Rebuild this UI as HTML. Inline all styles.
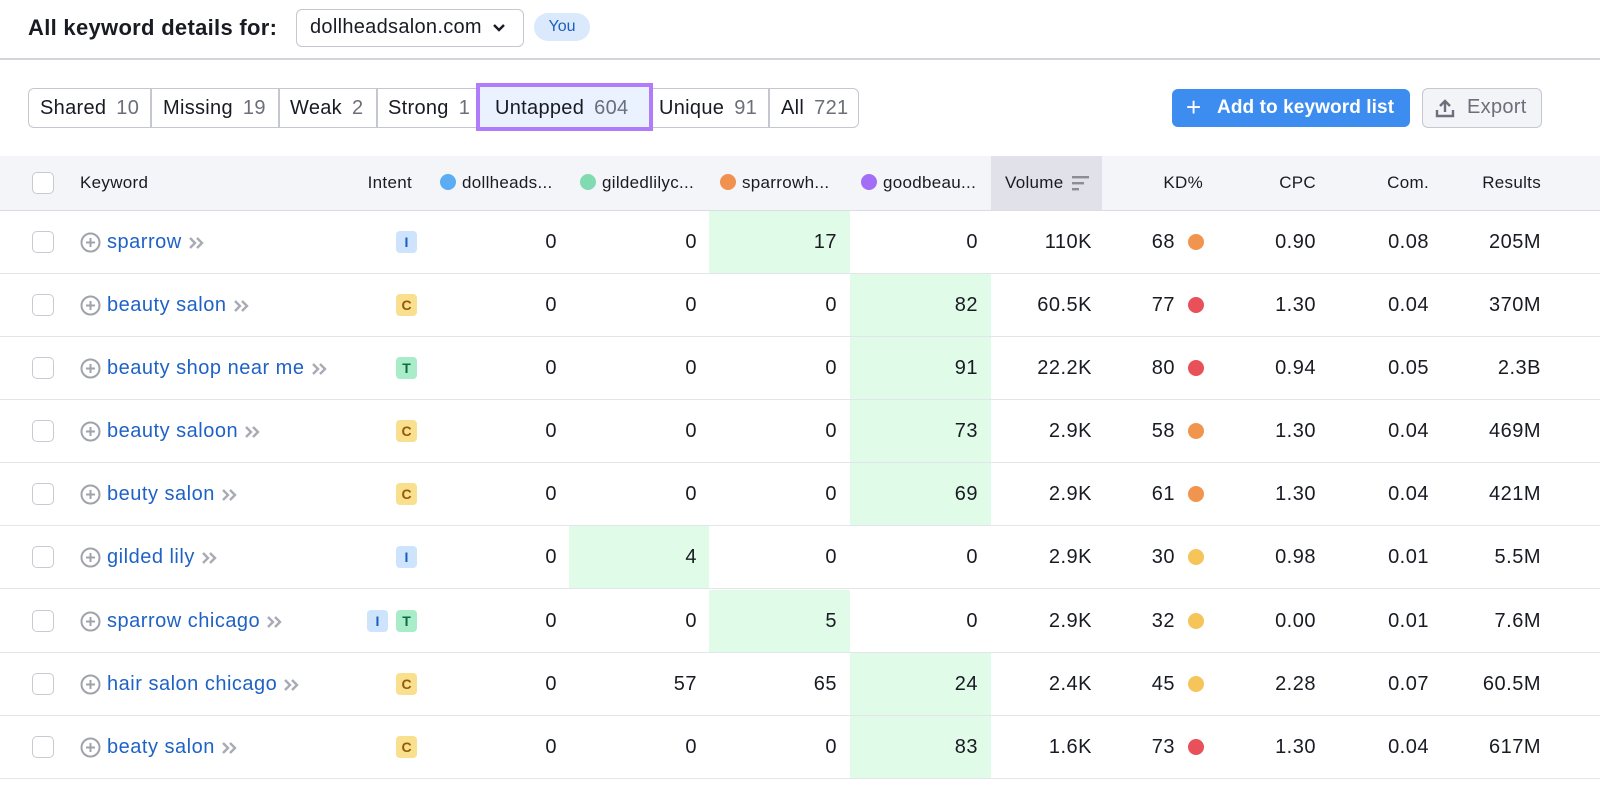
<!DOCTYPE html>
<html><head><meta charset="utf-8">
<style>
*{box-sizing:border-box;margin:0;padding:0}
body{width:1600px;height:797px;background:#fff;font-family:"Liberation Sans",Arial,sans-serif;color:#191b23;position:relative;overflow:hidden}
.a{position:absolute}
.title{left:28px;top:13px;font-size:22px;font-weight:bold;letter-spacing:0.3px;line-height:30px}
.dd{left:296px;top:9px;width:228px;height:38px;border:1.5px solid #c4c7cf;border-radius:6px;font-size:20px;letter-spacing:0.3px;line-height:35px;padding-left:13px}
.you{left:534px;top:13px;width:56px;height:28px;border-radius:14px;background:#dbe9fc;color:#1b5fc0;font-size:16px;text-align:center;line-height:28px}
.sep{left:0;top:58px;width:1600px;height:2px;background:#d3d5db}
.tabs{left:28px;top:88px;width:831px;height:40px;border:1.5px solid #c4c7cf;border-radius:6px}
.tab{position:absolute;top:88px;height:40px;font-size:20px;letter-spacing:0.3px;line-height:40px;padding-left:12px;white-space:nowrap}
.tab span{color:#6c6e79;margin-left:10px}
.vl{position:absolute;top:89px;width:1.5px;height:38px;background:#c4c7cf}
.unt{left:476px;top:83px;width:177px;height:48px;border:4px solid #b07cf9;background:#e9f2fe}
.add{left:1172px;top:89px;width:238px;height:38px;background:#3d8cf0;border-radius:6px;color:#fff;font-size:19px;font-weight:bold;line-height:38px;letter-spacing:0.1px}
.exp{left:1422px;top:88px;width:120px;height:40px;background:#f3f4f8;border:1.5px solid #c6c8d0;border-radius:6px;color:#6c6e79;font-size:20px;line-height:37px;letter-spacing:0.3px}
.hdr{left:0;top:156px;width:1600px;height:55px;background:#f4f5f9;border-bottom:1.5px solid #dcdde3}
.h{position:absolute;top:156px;height:54px;line-height:54px;font-size:17px;letter-spacing:0.3px;white-space:nowrap}
.hd{display:inline-block;width:16px;height:16px;border-radius:50%;vertical-align:-2px;margin-right:6px}
.cb{position:absolute;left:32px;width:22px;height:22px;border:1.5px solid #c8cad1;border-radius:5px;background:#fff}
.row{position:absolute;left:0;width:1600px;height:63px;border-bottom:1.5px solid #e4e5ea}
.c{position:absolute;top:0;height:62px;line-height:62px;font-size:20px;letter-spacing:0.5px;text-align:right;white-space:nowrap}
.g{position:absolute;top:0;height:62px;background:#e1fbe9}
.kw{position:absolute;left:80px;top:0;height:62px;line-height:62px;font-size:20px;letter-spacing:0.5px;color:#1f62c6;white-space:nowrap}
.kw svg{vertical-align:middle}
.bd{position:absolute;top:20px;width:21px;height:22px;border-radius:4px;font-size:14px;font-weight:bold;text-align:center;line-height:22px}
.bI{background:#cde4fc;color:#1a5dbf}
.bT{background:#a9ecc8;color:#0d6b43}
.bC{background:#f8e08e;color:#94590a}
.dot{position:absolute;left:1188px;top:23px;width:16px;height:16px;border-radius:50%}
.o{background:#f0944e}.rd{background:#e9505a}.y{background:#f5c55a}
</style></head><body>
<div class="a title">All keyword details for:</div>
<div class="a dd">dollheadsalon.com<svg class="a" style="left:195px;top:13px" width="14" height="10" viewBox="0 0 14 10"><path d="M2 2l5 5 5-5" fill="none" stroke="#191b23" stroke-width="2.4"/></svg></div>
<div class="a you">You</div>
<div class="a sep"></div>

<div class="a tabs"></div>
<div class="a unt"></div>
<div class="vl" style="left:150px"></div>
<div class="vl" style="left:278px"></div>
<div class="vl" style="left:376px"></div>
<div class="vl" style="left:768px"></div>
<div class="tab" style="left:28px">Shared<span>10</span></div>
<div class="tab" style="left:151px">Missing<span>19</span></div>
<div class="tab" style="left:278px">Weak<span>2</span></div>
<div class="tab" style="left:376px">Strong<span>1</span></div>
<div class="tab" style="left:483px">Untapped<span>604</span></div>
<div class="tab" style="left:647px">Unique<span>91</span></div>
<div class="tab" style="left:769px">All<span>721</span></div>

<div class="a add"><span style="position:absolute;left:14px;font-weight:normal;font-size:26px;top:-1px">+</span><span style="position:absolute;left:45px">Add to keyword list</span></div>
<div class="a exp"><svg class="a" style="left:12px;top:9px" width="20" height="20" viewBox="0 0 20 20"><path d="M10 14V3M5 8l5-5 5 5M2 12v6h16v-6" fill="none" stroke="#6c6e79" stroke-width="2.4"/></svg><span style="position:absolute;left:44px">Export</span></div>

<div class="a hdr"></div>
<div class="a" style="left:991px;top:156px;width:111px;height:54px;background:#e0e1e9"></div>
<div class="cb" style="top:172px"></div>
<div class="h" style="left:80px">Keyword</div>
<div class="h" style="left:340px;width:72px;text-align:right">Intent</div>
<div class="h" style="left:440px"><span class="hd" style="background:#5aacf5"></span>dollheads...</div>
<div class="h" style="left:580px"><span class="hd" style="background:#81dbb0"></span>gildedlilyc...</div>
<div class="h" style="left:720px"><span class="hd" style="background:#f0914f"></span>sparrowh...</div>
<div class="h" style="left:861px"><span class="hd" style="background:#a36df5"></span>goodbeau...</div>
<div class="h" style="left:1005px">Volume</div>
<svg class="a" style="left:1072px;top:175px" width="17" height="16" viewBox="0 0 17 16"><rect x="0" y="1" width="17" height="2.4" fill="#8a8d96"/><rect x="0" y="7" width="12" height="2.4" fill="#8a8d96"/><rect x="0" y="13" width="7" height="2.4" fill="#8a8d96"/></svg>
<div class="h" style="left:1140px;width:63px;text-align:right">KD%</div>
<div class="h" style="left:1250px;width:66px;text-align:right">CPC</div>
<div class="h" style="left:1360px;width:69px;text-align:right">Com.</div>
<div class="h" style="left:1460px;width:81px;text-align:right">Results</div>

<!-- rows -->
<div class="row" style="top:211px">
<div class="g" style="left:709px;width:141px"></div>
<div class="cb" style="top:20px"></div>
<div class="kw"><svg width="21" height="21" viewBox="0 0 21 21"><circle cx="10.5" cy="10.5" r="9" fill="none" stroke="#a0a3ab" stroke-width="2"/><path d="M10.5 6v9M6 10.5h9" stroke="#a0a3ab" stroke-width="2"/></svg> sparrow <svg width="18" height="14" viewBox="0 0 18 14"><path d="M2 2l5 5-5 5M9 2l5 5-5 5" fill="none" stroke="#a8abb3" stroke-width="2.4"/></svg></div>
<div class="bd bI" style="left:396px">I</div>
<div class="c" style="left:429px;width:128px">0</div>
<div class="c" style="left:569px;width:128px">0</div>
<div class="c" style="left:709px;width:128px">17</div>
<div class="c" style="left:850px;width:128px">0</div>
<div class="c" style="left:991px;width:101px">110K</div>
<div class="c" style="left:1110px;width:65px">68</div><div class="dot o"></div>
<div class="c" style="left:1210px;width:106px">0.90</div>
<div class="c" style="left:1330px;width:99px">0.08</div>
<div class="c" style="left:1440px;width:101px">205M</div>
</div>

<div class="row" style="top:274px">
<div class="g" style="left:850px;width:141px"></div>
<div class="cb" style="top:20px"></div>
<div class="kw"><svg width="21" height="21" viewBox="0 0 21 21"><circle cx="10.5" cy="10.5" r="9" fill="none" stroke="#a0a3ab" stroke-width="2"/><path d="M10.5 6v9M6 10.5h9" stroke="#a0a3ab" stroke-width="2"/></svg> beauty salon <svg width="18" height="14" viewBox="0 0 18 14"><path d="M2 2l5 5-5 5M9 2l5 5-5 5" fill="none" stroke="#a8abb3" stroke-width="2.4"/></svg></div>
<div class="bd bC" style="left:396px">C</div>
<div class="c" style="left:429px;width:128px">0</div>
<div class="c" style="left:569px;width:128px">0</div>
<div class="c" style="left:709px;width:128px">0</div>
<div class="c" style="left:850px;width:128px">82</div>
<div class="c" style="left:991px;width:101px">60.5K</div>
<div class="c" style="left:1110px;width:65px">77</div><div class="dot rd"></div>
<div class="c" style="left:1210px;width:106px">1.30</div>
<div class="c" style="left:1330px;width:99px">0.04</div>
<div class="c" style="left:1440px;width:101px">370M</div>
</div>

<div class="row" style="top:337px">
<div class="g" style="left:850px;width:141px"></div>
<div class="cb" style="top:20px"></div>
<div class="kw"><svg width="21" height="21" viewBox="0 0 21 21"><circle cx="10.5" cy="10.5" r="9" fill="none" stroke="#a0a3ab" stroke-width="2"/><path d="M10.5 6v9M6 10.5h9" stroke="#a0a3ab" stroke-width="2"/></svg> beauty shop near me <svg width="18" height="14" viewBox="0 0 18 14"><path d="M2 2l5 5-5 5M9 2l5 5-5 5" fill="none" stroke="#a8abb3" stroke-width="2.4"/></svg></div>
<div class="bd bT" style="left:396px">T</div>
<div class="c" style="left:429px;width:128px">0</div>
<div class="c" style="left:569px;width:128px">0</div>
<div class="c" style="left:709px;width:128px">0</div>
<div class="c" style="left:850px;width:128px">91</div>
<div class="c" style="left:991px;width:101px">22.2K</div>
<div class="c" style="left:1110px;width:65px">80</div><div class="dot rd"></div>
<div class="c" style="left:1210px;width:106px">0.94</div>
<div class="c" style="left:1330px;width:99px">0.05</div>
<div class="c" style="left:1440px;width:101px">2.3B</div>
</div>

<div class="row" style="top:400px">
<div class="g" style="left:850px;width:141px"></div>
<div class="cb" style="top:20px"></div>
<div class="kw"><svg width="21" height="21" viewBox="0 0 21 21"><circle cx="10.5" cy="10.5" r="9" fill="none" stroke="#a0a3ab" stroke-width="2"/><path d="M10.5 6v9M6 10.5h9" stroke="#a0a3ab" stroke-width="2"/></svg> beauty saloon <svg width="18" height="14" viewBox="0 0 18 14"><path d="M2 2l5 5-5 5M9 2l5 5-5 5" fill="none" stroke="#a8abb3" stroke-width="2.4"/></svg></div>
<div class="bd bC" style="left:396px">C</div>
<div class="c" style="left:429px;width:128px">0</div>
<div class="c" style="left:569px;width:128px">0</div>
<div class="c" style="left:709px;width:128px">0</div>
<div class="c" style="left:850px;width:128px">73</div>
<div class="c" style="left:991px;width:101px">2.9K</div>
<div class="c" style="left:1110px;width:65px">58</div><div class="dot o"></div>
<div class="c" style="left:1210px;width:106px">1.30</div>
<div class="c" style="left:1330px;width:99px">0.04</div>
<div class="c" style="left:1440px;width:101px">469M</div>
</div>

<div class="row" style="top:463px">
<div class="g" style="left:850px;width:141px"></div>
<div class="cb" style="top:20px"></div>
<div class="kw"><svg width="21" height="21" viewBox="0 0 21 21"><circle cx="10.5" cy="10.5" r="9" fill="none" stroke="#a0a3ab" stroke-width="2"/><path d="M10.5 6v9M6 10.5h9" stroke="#a0a3ab" stroke-width="2"/></svg> beuty salon <svg width="18" height="14" viewBox="0 0 18 14"><path d="M2 2l5 5-5 5M9 2l5 5-5 5" fill="none" stroke="#a8abb3" stroke-width="2.4"/></svg></div>
<div class="bd bC" style="left:396px">C</div>
<div class="c" style="left:429px;width:128px">0</div>
<div class="c" style="left:569px;width:128px">0</div>
<div class="c" style="left:709px;width:128px">0</div>
<div class="c" style="left:850px;width:128px">69</div>
<div class="c" style="left:991px;width:101px">2.9K</div>
<div class="c" style="left:1110px;width:65px">61</div><div class="dot o"></div>
<div class="c" style="left:1210px;width:106px">1.30</div>
<div class="c" style="left:1330px;width:99px">0.04</div>
<div class="c" style="left:1440px;width:101px">421M</div>
</div>

<div class="row" style="top:526px">
<div class="g" style="left:569px;width:140px"></div>
<div class="cb" style="top:20px"></div>
<div class="kw"><svg width="21" height="21" viewBox="0 0 21 21"><circle cx="10.5" cy="10.5" r="9" fill="none" stroke="#a0a3ab" stroke-width="2"/><path d="M10.5 6v9M6 10.5h9" stroke="#a0a3ab" stroke-width="2"/></svg> gilded lily <svg width="18" height="14" viewBox="0 0 18 14"><path d="M2 2l5 5-5 5M9 2l5 5-5 5" fill="none" stroke="#a8abb3" stroke-width="2.4"/></svg></div>
<div class="bd bI" style="left:396px">I</div>
<div class="c" style="left:429px;width:128px">0</div>
<div class="c" style="left:569px;width:128px">4</div>
<div class="c" style="left:709px;width:128px">0</div>
<div class="c" style="left:850px;width:128px">0</div>
<div class="c" style="left:991px;width:101px">2.9K</div>
<div class="c" style="left:1110px;width:65px">30</div><div class="dot y"></div>
<div class="c" style="left:1210px;width:106px">0.98</div>
<div class="c" style="left:1330px;width:99px">0.01</div>
<div class="c" style="left:1440px;width:101px">5.5M</div>
</div>

<div class="row" style="top:590px">
<div class="g" style="left:709px;width:141px"></div>
<div class="cb" style="top:20px"></div>
<div class="kw"><svg width="21" height="21" viewBox="0 0 21 21"><circle cx="10.5" cy="10.5" r="9" fill="none" stroke="#a0a3ab" stroke-width="2"/><path d="M10.5 6v9M6 10.5h9" stroke="#a0a3ab" stroke-width="2"/></svg> sparrow chicago <svg width="18" height="14" viewBox="0 0 18 14"><path d="M2 2l5 5-5 5M9 2l5 5-5 5" fill="none" stroke="#a8abb3" stroke-width="2.4"/></svg></div>
<div class="bd bI" style="left:367px">I</div>
<div class="bd bT" style="left:396px">T</div>
<div class="c" style="left:429px;width:128px">0</div>
<div class="c" style="left:569px;width:128px">0</div>
<div class="c" style="left:709px;width:128px">5</div>
<div class="c" style="left:850px;width:128px">0</div>
<div class="c" style="left:991px;width:101px">2.9K</div>
<div class="c" style="left:1110px;width:65px">32</div><div class="dot y"></div>
<div class="c" style="left:1210px;width:106px">0.00</div>
<div class="c" style="left:1330px;width:99px">0.01</div>
<div class="c" style="left:1440px;width:101px">7.6M</div>
</div>

<div class="row" style="top:653px">
<div class="g" style="left:850px;width:141px"></div>
<div class="cb" style="top:20px"></div>
<div class="kw"><svg width="21" height="21" viewBox="0 0 21 21"><circle cx="10.5" cy="10.5" r="9" fill="none" stroke="#a0a3ab" stroke-width="2"/><path d="M10.5 6v9M6 10.5h9" stroke="#a0a3ab" stroke-width="2"/></svg> hair salon chicago <svg width="18" height="14" viewBox="0 0 18 14"><path d="M2 2l5 5-5 5M9 2l5 5-5 5" fill="none" stroke="#a8abb3" stroke-width="2.4"/></svg></div>
<div class="bd bC" style="left:396px">C</div>
<div class="c" style="left:429px;width:128px">0</div>
<div class="c" style="left:569px;width:128px">57</div>
<div class="c" style="left:709px;width:128px">65</div>
<div class="c" style="left:850px;width:128px">24</div>
<div class="c" style="left:991px;width:101px">2.4K</div>
<div class="c" style="left:1110px;width:65px">45</div><div class="dot y"></div>
<div class="c" style="left:1210px;width:106px">2.28</div>
<div class="c" style="left:1330px;width:99px">0.07</div>
<div class="c" style="left:1440px;width:101px">60.5M</div>
</div>

<div class="row" style="top:716px">
<div class="g" style="left:850px;width:141px"></div>
<div class="cb" style="top:20px"></div>
<div class="kw"><svg width="21" height="21" viewBox="0 0 21 21"><circle cx="10.5" cy="10.5" r="9" fill="none" stroke="#a0a3ab" stroke-width="2"/><path d="M10.5 6v9M6 10.5h9" stroke="#a0a3ab" stroke-width="2"/></svg> beaty salon <svg width="18" height="14" viewBox="0 0 18 14"><path d="M2 2l5 5-5 5M9 2l5 5-5 5" fill="none" stroke="#a8abb3" stroke-width="2.4"/></svg></div>
<div class="bd bC" style="left:396px">C</div>
<div class="c" style="left:429px;width:128px">0</div>
<div class="c" style="left:569px;width:128px">0</div>
<div class="c" style="left:709px;width:128px">0</div>
<div class="c" style="left:850px;width:128px">83</div>
<div class="c" style="left:991px;width:101px">1.6K</div>
<div class="c" style="left:1110px;width:65px">73</div><div class="dot rd"></div>
<div class="c" style="left:1210px;width:106px">1.30</div>
<div class="c" style="left:1330px;width:99px">0.04</div>
<div class="c" style="left:1440px;width:101px">617M</div>
</div>
</body></html>
